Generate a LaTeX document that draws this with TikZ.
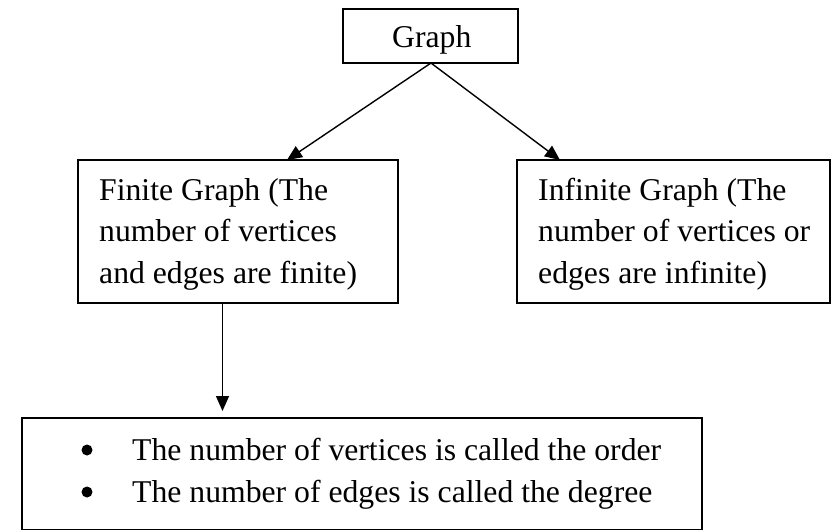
\documentclass[tikz,border=0pt]{standalone}
\usepackage{fontspec}
\setmainfont{Liberation Serif}
\usetikzlibrary{arrows.meta}
\begin{document}
\begin{tikzpicture}[x=1pt,y=-1pt,
  box/.style={draw=black, line width=1.8pt, anchor=north west, inner sep=0pt, outer sep=0pt},
  txt/.style={anchor=base west, inner sep=0pt, font=\fontsize{31.7}{38}\selectfont},
  conn/.style={line width=1.4pt, -{Triangle[length=15pt,width=13pt]}},
  bullet/.style={circle, fill=black, inner sep=0pt, minimum size=11pt},
]
\useasboundingbox (0,0) rectangle (831,531);
\clip (0,0) rectangle (831,531);
% boxes
\node[box, minimum width=175pt, minimum height=54pt] (graph) at (343,9) {};
\node[box, minimum width=320pt, minimum height=143pt] (finite) at (78,160) {};
\node[box, minimum width=313pt, minimum height=143pt] (infinite) at (517,160) {};
\node[box, minimum width=680pt, minimum height=111.5pt] (bottom) at (22,418) {};
% texts
\node[txt] (tg) at (392,47) {Graph};
\node[txt] (tf1) at (99,200) {Finite Graph (The};
\node[txt] (tf2) at (99,241.5) {number of vertices};
\node[txt] (tf3) at (99,283) {and edges are finite)};
\node[txt] (ti1) at (538,200) {Infinite Graph (The};
\node[txt] (ti2) at (538,241.5) {number of vertices or};
\node[txt] (ti3) at (538,283) {edges are infinite)};
\node[bullet] (b1) at (87,450) {};
\node[bullet] (b2) at (87,492) {};
\node[txt] (tb1) at (132,460) {The number of vertices is called the order};
\node[txt] (tb2) at (132,502) {The number of edges is called the degree};
% connector end points
\coordinate (apex) at (431,63);
\coordinate (finin) at (287,160);
\coordinate (infin) at (560,160);
\coordinate (finout) at (222.5,303);
\coordinate (botin) at (222.5,411);
\draw[conn] (apex) -- (finin);
\draw[conn] (apex) -- (infin);
\draw[conn] (finout) -- (botin);
\end{tikzpicture}
\end{document}
